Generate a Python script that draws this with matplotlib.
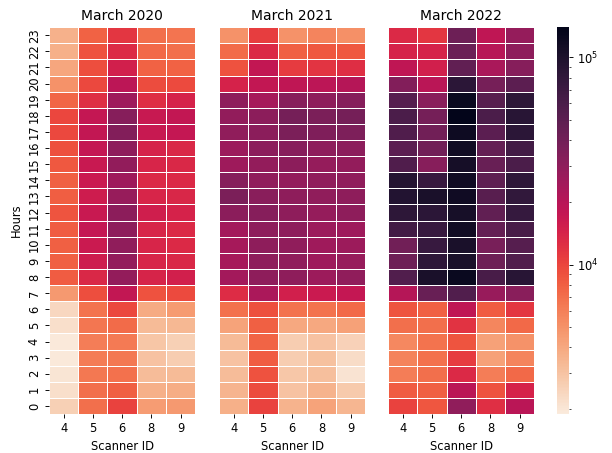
import matplotlib
matplotlib.use("Agg")
import matplotlib.pyplot as plt
from matplotlib.colors import LogNorm
import numpy as np
import pandas as pd
import seaborn as sns

hours = list(range(24))
scanners = [4, 5, 6, 8, 9]
titles = ["March 2020", "March 2021", "March 2022"]

# rows = hour 0..23, columns = scanners 4,5,6,8,9
march_2020 = [
    [2600, 7000, 10200, 4500, 4700],
    [2200, 7000, 8000, 3700, 3800],
    [2050, 6400, 6900, 3200, 3300],
    [1950, 6200, 6400, 3000, 2700],
    [1950, 6100, 6300, 2900, 2600],
    [2200, 6500, 7200, 3300, 3400],
    [2400, 6700, 9700, 3900, 4600],
    [4700, 9300, 17800, 9000, 9600],
    [8300, 13500, 28500, 14200, 15000],
    [8000, 15800, 28500, 14000, 13500],
    [8000, 16500, 29500, 14000, 13200],
    [8200, 17500, 30000, 14000, 13300],
    [8800, 16800, 30500, 15300, 14500],
    [8100, 16000, 27500, 14000, 13600],
    [8000, 16500, 26000, 13200, 13200],
    [8500, 16800, 29000, 14000, 13500],
    [9200, 17500, 30000, 14500, 13500],
    [9800, 18000, 34000, 17000, 17500],
    [10000, 17500, 33000, 17000, 18000],
    [7600, 12500, 26000, 12500, 14500],
    [5000, 9700, 19000, 9500, 9600],
    [4100, 9300, 15000, 7900, 7800],
    [3700, 9000, 13000, 7300, 7000],
    [3600, 7800, 11500, 7000, 6600],
]
march_2021 = [
    [3700, 10300, 3550, 4200, 3450],
    [3500, 9500, 3000, 3550, 2750],
    [3250, 9000, 2850, 3100, 2100],
    [3000, 8200, 2700, 3050, 2250],
    [3300, 7700, 2700, 3000, 2550],
    [4200, 8000, 4000, 4000, 4300],
    [6900, 9100, 6700, 6800, 7400],
    [12800, 22500, 15200, 16500, 17500],
    [24500, 30000, 30000, 26500, 29500],
    [24000, 30000, 29500, 26000, 27500],
    [24000, 30000, 29500, 25500, 26500],
    [24500, 30000, 30000, 26500, 26000],
    [31000, 33000, 30000, 28000, 30000],
    [36000, 31500, 30000, 29500, 30000],
    [33000, 29500, 28500, 29500, 29500],
    [26000, 28500, 30500, 28000, 28500],
    [26500, 30500, 32000, 30000, 30500],
    [29500, 31000, 36500, 35000, 35500],
    [29000, 30500, 38500, 36000, 39000],
    [30000, 24000, 32000, 30000, 33000],
    [14500, 18000, 18500, 19000, 20500],
    [9000, 18000, 11000, 11800, 12500],
    [7200, 13200, 8000, 8600, 8600],
    [5000, 10800, 5000, 5700, 5100],
]
march_2022 = [
    [10300, 8700, 29500, 12400, 19500],
    [8200, 8000, 19500, 9000, 14500],
    [6100, 7000, 13200, 6100, 7400],
    [5800, 6900, 11000, 4300, 5700],
    [5500, 6700, 8800, 4300, 5000],
    [7000, 7000, 12000, 5600, 7400],
    [8800, 8000, 18500, 8300, 11500],
    [20500, 44500, 56000, 27000, 31500],
    [56000, 104000, 125000, 62000, 88000],
    [42000, 82000, 104000, 42000, 56000],
    [40000, 75000, 104000, 37500, 53000],
    [66000, 75000, 116000, 46000, 62000],
    [84000, 86000, 108000, 47000, 76000],
    [95000, 105000, 118000, 52000, 80000],
    [92000, 75000, 118000, 49000, 82000],
    [57000, 32000, 110000, 44000, 60000],
    [51000, 40000, 115000, 46000, 66000],
    [57000, 40000, 120000, 51000, 85000],
    [60000, 39000, 140000, 60000, 88000],
    [53000, 31500, 125000, 52000, 84000],
    [34000, 19500, 85000, 38000, 50000],
    [18500, 15000, 47000, 23000, 33000],
    [14500, 14500, 43000, 20000, 30000],
    [13300, 11500, 42000, 18500, 28000],
]

norm = LogNorm(vmin=1900, vmax=140000)

dpi = 83
fig = plt.figure(figsize=(612 / dpi, 453 / dpi), dpi=dpi)
lefts = [0.080, 0.358, 0.634]
axes = [fig.add_axes([l, 0.086, 0.239, 0.854]) for l in lefts]
cax = fig.add_axes([0.910, 0.086, 0.0196, 0.854])

for i, (ax, data, title) in enumerate(zip(axes, [march_2020, march_2021, march_2022], titles)):
    df = pd.DataFrame(data, index=hours, columns=scanners).iloc[::-1]
    sns.heatmap(df, ax=ax, cmap="rocket_r", norm=norm,
                linewidths=0.5, linecolor="white",
                cbar=(i == 2), cbar_ax=cax if i == 2 else None,
                yticklabels=True if i == 0 else False)
    ax.set_title(title, fontsize=12)
    ax.set_xlabel("Scanner ID")
    if i == 0:
        ax.set_ylabel("Hours")
        ax.set_yticklabels(df.index, rotation=90, va="center")
    else:
        ax.set_ylabel("")
        ax.set_yticks([])

fig.savefig("out.png", dpi=dpi)
